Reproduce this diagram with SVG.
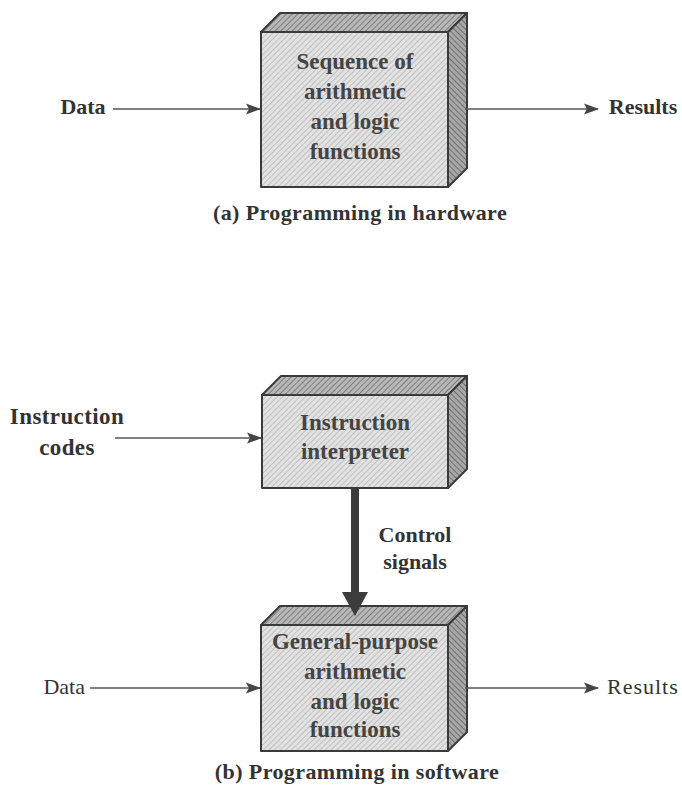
<svg xmlns="http://www.w3.org/2000/svg" width="682" height="790" viewBox="0 0 682 790">
<style>
.t{font-family:"Liberation Serif","Times New Roman",serif;font-weight:bold;font-size:22px;fill:#333;text-anchor:middle}
.cap{letter-spacing:0.4px}
.tb{font-family:"Liberation Serif","Times New Roman",serif;font-weight:bold;font-size:23px;fill:#444;text-anchor:middle}
.r{font-family:"Liberation Serif","Times New Roman",serif;font-weight:normal;font-size:22px;fill:#333}
.front{fill:url(#hf);stroke:#3a3a3a;stroke-width:2;stroke-linejoin:round}
.top{fill:url(#ht);stroke:#3a3a3a;stroke-width:2;stroke-linejoin:round}
.side{fill:url(#hs);stroke:#3a3a3a;stroke-width:2;stroke-linejoin:round}
.ln{stroke:#555;stroke-width:1.6;fill:none;marker-end:url(#ah)}
</style>
<defs>
<pattern id="hf" width="4" height="4" patternUnits="userSpaceOnUse" patternTransform="rotate(45)">
<rect width="4" height="4" fill="#e2e2e2"/><line x1="0" y1="0" x2="0" y2="4" stroke="#b4b4b4" stroke-width="1.5"/>
</pattern>
<pattern id="ht" width="4" height="4" patternUnits="userSpaceOnUse" patternTransform="rotate(45)">
<rect width="4" height="4" fill="#b8b8b8"/><line x1="0" y1="0" x2="0" y2="4" stroke="#6e6e6e" stroke-width="1.6"/>
</pattern>
<pattern id="hs" width="4" height="4" patternUnits="userSpaceOnUse" patternTransform="rotate(-45)">
<rect width="4" height="4" fill="#a8a8a8"/><line x1="0" y1="0" x2="0" y2="4" stroke="#606060" stroke-width="1.6"/>
</pattern>
<marker id="ah" markerWidth="15" markerHeight="12" refX="14" refY="6" orient="auto" markerUnits="userSpaceOnUse">
<path d="M0,0.5 L15,6 L0,11.5 L3,6 Z" fill="#444"/>
</marker>
</defs>
<rect width="682" height="790" fill="#fff"/>

<g id="box-hw">
<polygon class="top" points="261,32 280,13 467,13 448,32"/>
<polygon class="side" points="448,32 467,13 467,168 448,187"/>
<rect class="front" x="261" y="32" width="187" height="155"/>
<text class="tb" x="355" y="69">Sequence of</text>
<text class="tb" x="355" y="99">arithmetic</text>
<text class="tb" x="355" y="129">and logic</text>
<text class="tb" x="355" y="159">functions</text>
</g>

<g id="box-interp">
<polygon class="top" points="262,395 281,376 467,376 448,395"/>
<polygon class="side" points="448,395 467,376 467,469 448,488"/>
<rect class="front" x="262" y="395" width="186" height="93"/>
<text class="tb" x="355" y="430">Instruction</text>
<text class="tb" x="355" y="459">interpreter</text>
</g>

<g id="box-gp">
<polygon class="top" points="261,625 280,606 467,606 448,625"/>
<polygon class="side" points="448,625 467,606 467,732 448,751"/>
<rect class="front" x="261" y="625" width="187" height="126"/>
<text class="tb" x="355" y="649">General-purpose</text>
<text class="tb" x="355" y="679">arithmetic</text>
<text class="tb" x="355" y="709">and logic</text>
<text class="tb" x="355" y="737">functions</text>
</g>

<g id="labels">
<text class="t" x="83" y="114">Data</text>
<text class="t" x="643" y="114">Results</text>
<text class="t cap" x="360" y="220">(a) Programming in hardware</text>
<text class="t cap" x="67" y="424" style="font-size:23px">Instruction</text>
<text class="t cap" x="67" y="455" style="font-size:23px">codes</text>
<text class="t" x="415" y="542">Control</text>
<text class="t" x="415" y="569">signals</text>
<text class="r" x="85" y="694" text-anchor="end">Data</text>
<text class="r" x="607" y="694" style="letter-spacing:1px">Results</text>
<text class="t cap" x="357" y="779">(b) Programming in software</text>
</g>

<g id="connectors">
<line class="ln" x1="113" y1="109" x2="260" y2="109"/>
<line class="ln" x1="465" y1="109" x2="598" y2="109"/>
<line class="ln" x1="115" y1="438" x2="261" y2="438"/>
<line class="ln" x1="90" y1="688" x2="260" y2="688"/>
<line class="ln" x1="465" y1="688" x2="598" y2="688"/>
<line x1="355" y1="488" x2="355" y2="596" stroke="#3c3c3c" stroke-width="8"/>
<polygon points="342,592 368,592 355,616" fill="#3c3c3c"/>
</g>
</svg>
